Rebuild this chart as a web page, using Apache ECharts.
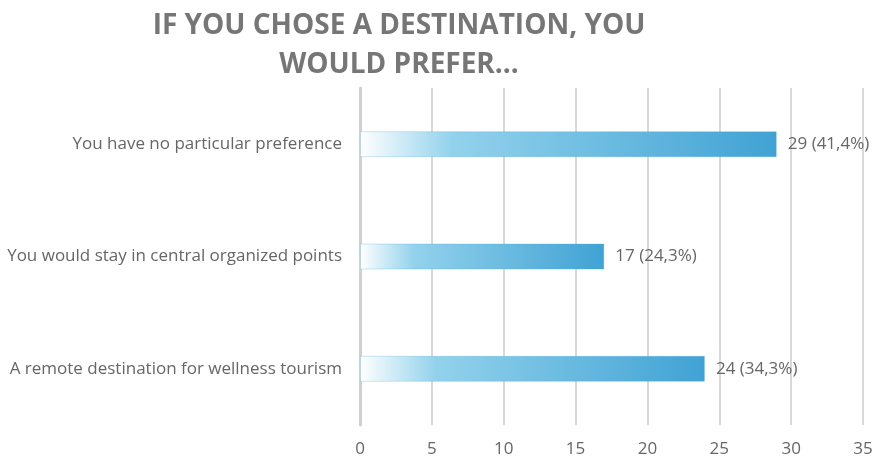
<!DOCTYPE html>
<html>
<head>
<meta charset="utf-8">
<script src="https://cdn.jsdelivr.net/npm/echarts@6/dist/echarts.min.js"></script>
<style>
  html, body { margin: 0; padding: 0; background: #ffffff; }
  #chart { width: 878px; height: 463px; }
</style>
</head>
<body>
<div id="chart"></div>
<script>
// Survey answers (bottom to top on the category axis)
const categories = [
  'A remote destination for wellness tourism',
  'You would stay in central organized points',
  'You have no particular preference'
];
const counts = [24, 17, 29];
const shares = ['34,3%', '24,3%', '41,4%'];
const xTicks = [0, 5, 10, 15, 20, 25, 30, 35];

const chart = echarts.init(document.getElementById('chart'));

const barFill = {
  type: 'linear', x: 0, y: 0, x2: 1, y2: 0,
  colorStops: [
    { offset: 0, color: 'rgba(255,255,255,1)' },
    { offset: 0.22, color: '#93d2ec' },
    { offset: 1, color: '#40a2d4' }
  ]
};

const textFont = { fontFamily: 'Open Sans', fontSize: 17, color: '#666666' };

chart.setOption({
  animation: false,
  title: {
    text: 'IF YOU CHOSE A DESTINATION, YOU\nWOULD PREFER…',
    left: 394,
    textAlign: 'center',
    top: 2,
    textStyle: {
      fontFamily: 'Open Sans',
      fontWeight: 'bold',
      fontSize: 28,
      lineHeight: 39,
      color: '#767676'
    }
  },
  grid: { left: 360, right: 15, top: 88, bottom: 38, containLabel: false },
  xAxis: {
    type: 'value',
    min: xTicks[0],
    max: xTicks[xTicks.length - 1],
    interval: 5,
    axisLine: { show: false },
    axisTick: { show: false },
    splitLine: { show: true, lineStyle: { color: '#d9d9d9', width: 2 } },
    axisLabel: Object.assign({ margin: 16 }, textFont)
  },
  yAxis: {
    type: 'category',
    data: categories,
    axisLine: { show: true, lineStyle: { color: '#d0d0d0', width: 3 } },
    axisTick: { show: false },
    axisLabel: Object.assign({ margin: 18 }, textFont)
  },
  series: [{
    type: 'bar',
    data: counts,
    barWidth: 26,
    itemStyle: { color: barFill, borderColor: 'rgba(63,161,211,0.25)', borderWidth: 1 },
    label: Object.assign({
      show: true,
      position: 'right',
      distance: 11,
      formatter: p => p.value + ' (' + shares[p.dataIndex] + ')'
    }, textFont)
  }]
});
</script>
</body>
</html>
